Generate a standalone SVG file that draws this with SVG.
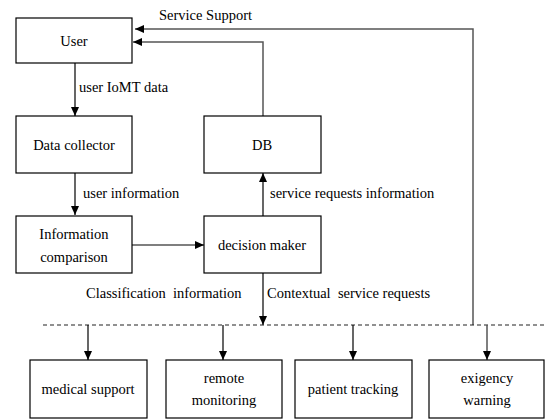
<svg xmlns="http://www.w3.org/2000/svg" width="545" height="420" viewBox="0 0 545 420">
<defs>
<marker id="ah" markerWidth="10" markerHeight="10" refX="9" refY="5" orient="auto" markerUnits="userSpaceOnUse">
<path d="M0,1 L9,5 L0,9 Z" fill="#000"/>
</marker>
<style>
.box{fill:#fff;stroke:#000;stroke-width:1.2}
text{font-family:'Liberation Serif','Times New Roman',serif;font-size:14.5px;fill:#000}
.c{text-anchor:middle}
.ln{fill:none;stroke:#000;stroke-width:1.2}
.lg{fill:none;stroke:#555;stroke-width:1.5}
.dash{fill:none;stroke:#222;stroke-width:1.2;stroke-dasharray:4,3}
</style>
</defs>
<rect width="545" height="420" fill="#fff"/>
<g id="connectors">
<path class="lg" d="M473,325 V29 H135" marker-end="url(#ah)"/>
<path class="lg" d="M263,116 V42 H133" marker-end="url(#ah)"/>
<path class="ln" d="M75,63 V116" marker-end="url(#ah)"/>
<path class="ln" d="M75,173 V215" marker-end="url(#ah)"/>
<path class="ln" d="M132,245 H204" marker-end="url(#ah)"/>
<path class="ln" d="M263,216 V173" marker-end="url(#ah)"/>
<path class="ln" d="M263,273 V325" marker-end="url(#ah)"/>
<path class="dash" d="M43,325 H545"/>
<path class="ln" d="M88,325 V360" marker-end="url(#ah)"/>
<path class="ln" d="M223,325 V360" marker-end="url(#ah)"/>
<path class="ln" d="M353,325 V360" marker-end="url(#ah)"/>
<path class="lg" d="M487,325 V360" marker-end="url(#ah)"/>
<text x="159" y="20">Service Support</text>
<text x="79" y="92">user IoMT data</text>
<text x="83" y="198">user information</text>
<text x="270" y="198">service requests information</text>
<text x="86" y="298" xml:space="preserve">Classification  information</text>
<text x="267" y="298" xml:space="preserve">Contextual  service requests</text>
</g>
<g id="user"><rect class="box" x="16" y="18" width="116" height="45"/><text class="c" x="74" y="46">User</text></g>
<g id="data-collector"><rect class="box" x="16" y="116" width="116" height="57"/><text class="c" x="74" y="150">Data collector</text></g>
<g id="db"><rect class="box" x="204" y="116" width="117" height="57"/><text class="c" x="262" y="150">DB</text></g>
<g id="information-comparison"><rect class="box" x="16" y="216" width="116" height="57"/><text class="c" x="74" y="239">Information</text><text class="c" x="74" y="262">comparison</text></g>
<g id="decision-maker"><rect class="box" x="204" y="216" width="117" height="57"/><text class="c" x="262" y="250">decision maker</text></g>
<g id="medical-support"><rect class="box" x="30" y="360" width="117" height="58"/><text class="c" x="88" y="394">medical support</text></g>
<g id="remote-monitoring"><rect class="box" x="166" y="360" width="116" height="58"/><text class="c" x="224" y="383">remote</text><text class="c" x="224" y="405">monitoring</text></g>
<g id="patient-tracking"><rect class="box" x="295" y="360" width="117" height="58"/><text class="c" x="353" y="394">patient tracking</text></g>
<g id="exigency-warning"><rect class="box" x="429" y="360" width="115" height="58"/><text class="c" x="487" y="383">exigency</text><text class="c" x="487" y="405">warning</text></g>
</svg>
